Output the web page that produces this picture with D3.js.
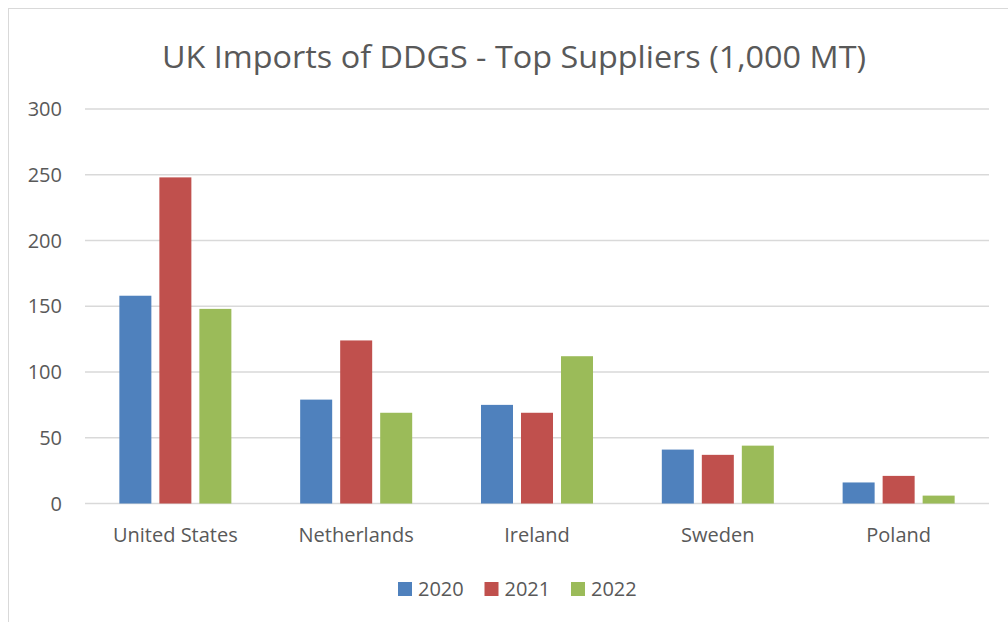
<!DOCTYPE html>
<html>
<head>
<meta charset="utf-8">
<script src="https://cdn.jsdelivr.net/npm/d3@7"></script>
<style>
  body { margin: 0; background: #fff; }
  text { font-family: "Open Sans", sans-serif; fill: #595959; }
</style>
</head>
<body>
<div id="chart"></div>
<script>
const countries = ["United States", "Netherlands", "Ireland", "Sweden", "Poland"];
const years = ["2020", "2021", "2022"];
const v2020 = [158, 79, 75, 41, 16];
const v2021 = [248, 124, 69, 37, 21];
const v2022 = [148, 69, 112, 44, 6];
const yTicks = [0, 50, 100, 150, 200, 250, 300];
const colors = ["#4F81BD", "#C0504D", "#9BBB59"];

const width = 1008, height = 622;
const plot = { left: 85, right: 989, top: 109, bottom: 503.5 };

const svg = d3.select("#chart").append("svg")
  .attr("width", width).attr("height", height);

// chart border (only top/left visible)
svg.append("rect")
  .attr("x", 8.5).attr("y", 8.5)
  .attr("width", 1010).attr("height", 620)
  .attr("fill", "none").attr("stroke", "#d9d9d9").attr("stroke-width", 1);

svg.append("text")
  .attr("x", 514).attr("y", 68)
  .attr("text-anchor", "middle")
  .style("font-size", "31px")
  .attr("textLength", 704).attr("lengthAdjust", "spacingAndGlyphs")
  .text("UK Imports of DDGS - Top Suppliers (1,000 MT)");

const y = d3.scaleLinear().domain([0, 300]).range([plot.bottom, plot.top]);
const x0 = d3.scaleBand().domain(countries).range([plot.left, plot.right]).paddingInner(0.3805).paddingOuter(0.19);
const x1 = d3.scaleBand().domain(years).range([0, x0.bandwidth()]).paddingInner(0.2);

// gridlines + y labels
const yAxis = svg.append("g");
yAxis.selectAll("line").data(yTicks).join("line")
  .attr("x1", plot.left).attr("x2", plot.right)
  .attr("y1", d => y(d)).attr("y2", d => y(d))
  .attr("stroke", "#d9d9d9").attr("stroke-width", 1.5);
yAxis.selectAll("text").data(yTicks).join("text")
  .attr("x", 62).attr("y", d => y(d) + 7)
  .attr("text-anchor", "end")
  .style("font-size", "20px")
  .text(d => d);

const series = [v2020, v2021, v2022];
const groups = svg.selectAll("g.country").data(countries).join("g")
  .attr("class", "country")
  .attr("transform", d => `translate(${x0(d)},0)`);

groups.selectAll("rect").data((c, i) => years.map((yr, j) => ({ yr, j, v: series[j][i] }))).join("rect")
  .attr("x", d => x1(d.yr))
  .attr("y", d => y(d.v))
  .attr("width", x1.bandwidth())
  .attr("height", d => y(0) - y(d.v))
  .attr("fill", d => colors[d.j]);

svg.append("g").selectAll("text").data(countries).join("text")
  .attr("x", d => x0(d) + x0.bandwidth() / 2)
  .attr("y", 542)
  .attr("text-anchor", "middle")
  .style("font-size", "20px")
  .text(d => d);

// legend
const legend = svg.append("g").selectAll("g").data(years).join("g")
  .attr("transform", (d, i) => `translate(${398 + i * 86.5},582)`);
legend.append("rect").attr("width", 14).attr("height", 14).attr("fill", (d, i) => colors[i]);
legend.append("text").attr("x", 20).attr("y", 14).style("font-size", "20px").text(d => d);
</script>
</body>
</html>
